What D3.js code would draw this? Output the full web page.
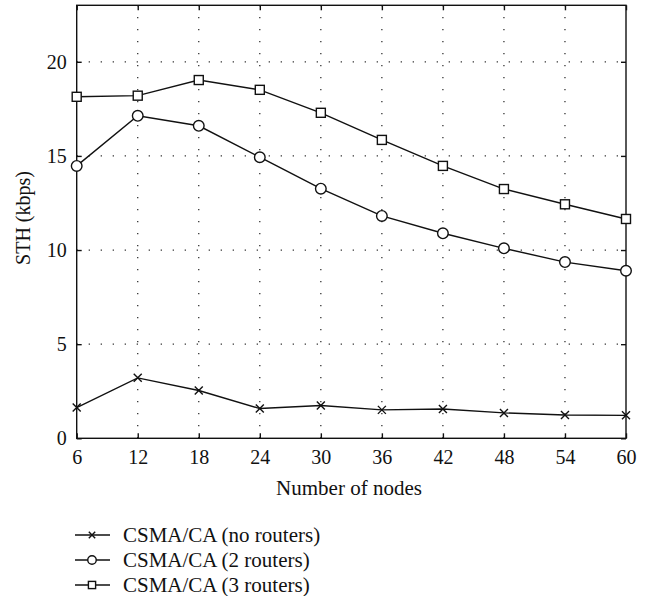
<!DOCTYPE html>
<html>
<head>
<meta charset="utf-8">
<script src="https://cdn.jsdelivr.net/npm/d3@7"></script>
<style>
body { margin: 0; background: #fff; }
svg text { font-family: 'Liberation Serif', serif !important; fill: #111; }
</style>
</head>
<body>
<svg id="chart"></svg>
<script>
var nodes = [6, 12, 18, 24, 30, 36, 42, 48, 54, 60];
var noRouters = [1.63, 3.21, 2.54, 1.58, 1.74, 1.51, 1.56, 1.35, 1.24, 1.22];
var twoRouters = [14.47, 17.13, 16.6, 14.93, 13.26, 11.81, 10.89, 10.09, 9.36, 8.9];
var threeRouters = [18.14, 18.2, 19.03, 18.51, 17.29, 15.85, 14.47, 13.24, 12.43, 11.65];
var yTicks = [0, 5, 10, 15, 20];
var seriesNames = ["CSMA/CA (no routers)", "CSMA/CA (2 routers)", "CSMA/CA (3 routers)"];
var markers = ["cross", "circle", "square"];

drawChart("#chart");

function drawChart(id){
	var svgWidth = 647, svgHeight = 596;
	var left = 76.7, right = 626, top = 5.3, bottom = 438.3;

	var svg = d3.select(id).attr("width", svgWidth).attr("height", svgHeight)
		.attr("font-family", "Liberation Serif");

	var x = d3.scaleLinear().domain([6, 60]).range([left, right]);
	var y = d3.scaleLinear().domain([0, 23]).range([bottom, top]);

	// dotted grid
	var grid = svg.append("g").attr("stroke", "#222").attr("stroke-width", 1.2)
		.attr("stroke-dasharray", "1.2,10.8");
	grid.selectAll("line.vx").data(nodes.slice(1, -1)).enter().append("line")
		.attr("x1", d => x(d)).attr("x2", d => x(d))
		.attr("y1", bottom).attr("y2", top);
	grid.selectAll("line.hy").data(yTicks.slice(1)).enter().append("line")
		.attr("x1", left).attr("x2", right)
		.attr("y1", d => y(d)).attr("y2", d => y(d));

	// axes with inward ticks
	svg.append("g").attr("transform", "translate(0," + bottom + ")")
		.call(d3.axisBottom(x).tickValues(nodes).tickSizeInner(-5).tickSizeOuter(0).tickPadding(12))
		.call(styleAxis);
	svg.append("g").attr("transform", "translate(0," + top + ")")
		.call(d3.axisTop(x).tickValues(nodes).tickSizeInner(-5).tickSizeOuter(0).tickFormat(""))
		.call(styleAxis);
	svg.append("g").attr("transform", "translate(" + left + ",0)")
		.call(d3.axisLeft(y).tickValues(yTicks).tickSizeInner(-5).tickSizeOuter(0).tickPadding(10))
		.call(styleAxis);
	svg.append("g").attr("transform", "translate(" + right + ",0)")
		.call(d3.axisRight(y).tickValues(yTicks).tickSizeInner(-5).tickSizeOuter(0).tickFormat(""))
		.call(styleAxis);

	svg.append("rect").attr("x", left).attr("y", top)
		.attr("width", right - left).attr("height", bottom - top)
		.attr("fill", "none").attr("stroke", "#111").attr("stroke-width", 1.4);

	var line = d3.line().x((d, i) => x(nodes[i])).y(d => y(d));
	var allSeries = [noRouters, twoRouters, threeRouters];

	allSeries.forEach(function(vals, k){
		svg.append("path").datum(vals).attr("d", line)
			.attr("fill", "none").attr("stroke", "#111").attr("stroke-width", 1.4);
		vals.forEach(function(v, i){
			drawMarker(svg, markers[k], x(nodes[i]), y(v), 1);
		});
	});

	// axis titles
	svg.append("text").attr("x", 349).attr("y", 495)
		.attr("text-anchor", "middle").attr("font-size", "21px").text("Number of nodes");
	svg.append("text").attr("transform", "translate(30,218) rotate(-90)")
		.attr("text-anchor", "middle").attr("font-size", "20px").text("STH (kbps)");

	// legend
	seriesNames.forEach(function(name, i){
		var ly = 535 + i * 25;
		svg.append("line").attr("x1", 75).attr("x2", 110).attr("y1", ly).attr("y2", ly)
			.attr("stroke", "#111").attr("stroke-width", 1.3);
		drawMarker(svg, markers[i], 92, ly, 0.8);
		svg.append("text").attr("x", 123).attr("y", ly + 7)
			.attr("font-size", "21px").text(name);
	});
}

function styleAxis(g){
	g.attr("font-family", "Liberation Serif").attr("font-size", 20);
	g.select(".domain").remove();
	g.selectAll(".tick line").attr("stroke", "#111").attr("stroke-width", 1.4);
	g.selectAll(".tick text").attr("fill", "#111");
}

function drawMarker(svg, type, cx, cy, s){
	if (type === "cross") {
		var r = 4 * s;
		svg.append("path")
			.attr("d", "M" + (cx - r) + "," + (cy - r) + "L" + (cx + r) + "," + (cy + r) +
				"M" + (cx - r) + "," + (cy + r) + "L" + (cx + r) + "," + (cy - r))
			.attr("stroke", "#111").attr("stroke-width", 1.4);
	} else if (type === "circle") {
		svg.append("circle").attr("cx", cx).attr("cy", cy).attr("r", 5.3 * s)
			.attr("fill", "#fff").attr("stroke", "#111").attr("stroke-width", 1.4);
	} else {
		var h = 4.5 * s;
		svg.append("rect").attr("x", cx - h).attr("y", cy - h)
			.attr("width", 2 * h).attr("height", 2 * h)
			.attr("fill", "#fff").attr("stroke", "#111").attr("stroke-width", 1.4);
	}
}
</script>
</body>
</html>
